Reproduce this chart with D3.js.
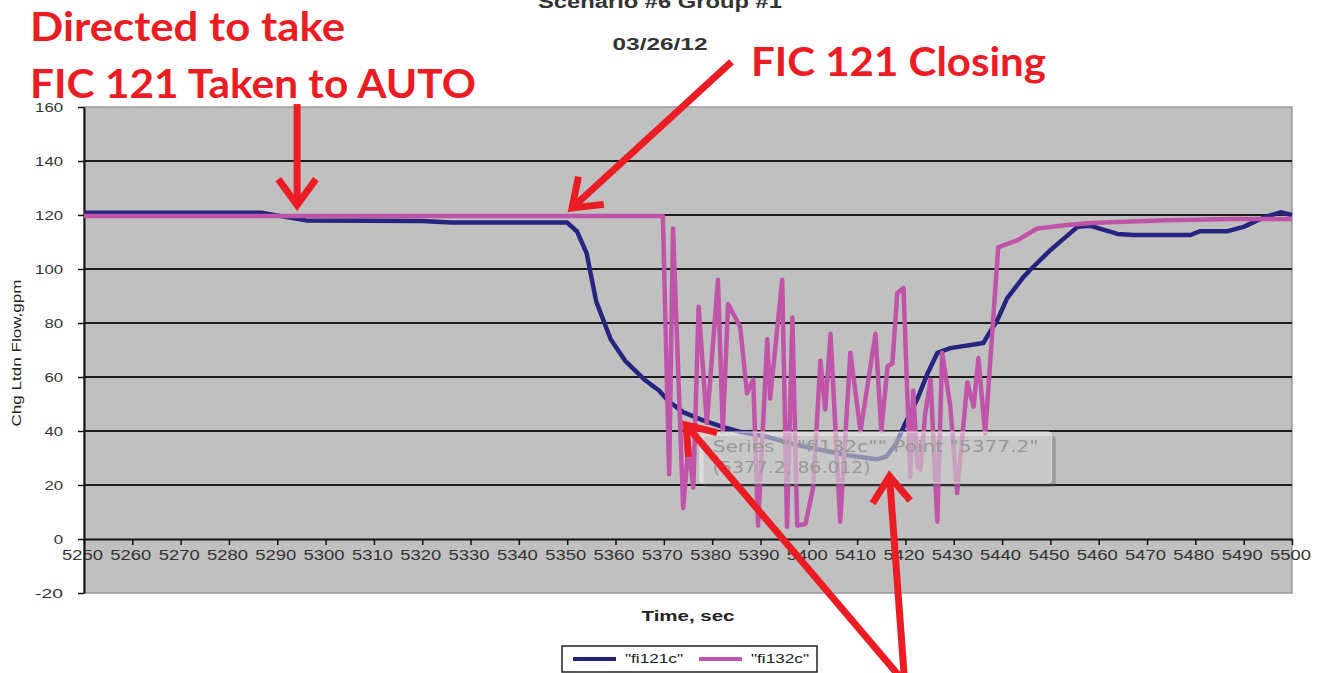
<!DOCTYPE html>
<html>
<head>
<meta charset="utf-8">
<script src="https://cdn.jsdelivr.net/npm/d3@7"></script>
<style>
  body { margin: 0; background: #fff; }
  svg { display: block; }
</style>
</head>
<body>
<div id="vis"></div>
<script>
// fi121c (navy) - time, sec / flow, gpm
const timeA = [5250, 5287, 5291, 5296, 5320, 5326, 5350, 5352, 5354, 5356, 5359, 5362, 5366, 5369, 5371, 5374,
  5378, 5382, 5386, 5391, 5397, 5408, 5414, 5416, 5418, 5420, 5422.5, 5424.5, 5426.6, 5429.3, 5436.1, 5439,
  5441, 5444.4, 5446, 5450, 5455.6, 5458.3, 5463.9, 5467.2, 5479, 5481, 5486.7, 5490, 5494, 5497.6, 5500];
const flowA = [120.8, 120.8, 119.5, 118, 117.8, 117.2, 117.2, 114, 106, 88, 74, 66, 59, 55, 51, 47,
  44, 41.6, 39.6, 38, 35, 31, 29.5, 30.5, 35, 43, 52, 61, 68.9, 70.7, 72.6, 81,
  89, 97, 100, 107, 115.6, 116, 113, 112.6, 112.6, 114, 114, 115.6, 119, 121, 120];

// fi132c (pink)
const timeB = [5250, 5369.8, 5371.1, 5371.9, 5374.0, 5375.1, 5376.1, 5377.2, 5378.9, 5381.2, 5382.2, 5383.3,
  5385.8, 5387.2, 5388.5, 5389.5, 5391.4, 5392.0, 5394.5, 5395.5, 5396.6, 5397.6, 5399.3, 5400.9, 5402.4,
  5403.4, 5404.5, 5406.5, 5408.6, 5410.7, 5413.8, 5415.0, 5416.3, 5417.3, 5418.3, 5419.6, 5421.0, 5421.6,
  5422.5, 5423.1, 5424.1, 5425.2, 5426.6, 5427.6, 5429.3, 5430.7, 5432.8, 5434.1, 5435.1, 5436.5, 5439.2,
  5443.2, 5447.3, 5453.5, 5458.3, 5474, 5487.6, 5500];
const flowB = [119.6, 119.6, 24, 115, 11.5, 35, 19, 86, 43, 96, 40, 87,
  78.6, 54, 59, 5, 74, 52, 96, 4.5, 82, 5, 5.5, 19, 66,
  48, 76, 6.4, 69, 40, 76, 40, 64, 65, 91, 93, 23, 55,
  27, 25.6, 46.6, 59, 6.4, 69, 49, 17, 58, 49, 67, 39, 108,
  110.7, 115, 116.3, 117, 118.1, 118.5, 118.5];

const xTicks = d3.range(5250, 5501, 10);
const yTicks = d3.range(-20, 161, 20);
const seriesNames = ['"fi121c"', '"fi132c"'];
const seriesColors = ["#25257f", "#c054a8"];

// red call-outs: [tail time, tail flow, tip time, tip flow]
const arrows = [
  [5294.1, 161.1, 5294.1, 123.7],
  [5384.0, 176.7, 5351.0, 122.6],
  [5419.4, -52.2, 5374.6, 42.2],
  [5419.8, -52.2, 5416.7, 23.3]
];

const W = 1327, H = 673;
const svg = d3.select("#vis").append("svg").attr("width", W).attr("height", H);

const x = d3.scaleLinear().domain([5250, 5500]).range([84, 1292]);
const y = d3.scaleLinear().domain([-20, 160]).range([593, 107]);

// plot area
svg.append("rect")
  .attr("x", x(5250)).attr("y", y(160))
  .attr("width", x(5500) - x(5250)).attr("height", y(-20) - y(160))
  .attr("fill", "#c0c0c0")
  .attr("stroke", "#9a9a9a")
  .attr("stroke-width", 1.5);

svg.append("g").selectAll("line")
  .data(yTicks.filter(d => d > 0 && d < 160))
  .join("line")
  .attr("x1", x(5250)).attr("x2", x(5500))
  .attr("y1", d => y(d)).attr("y2", d => y(d))
  .attr("stroke", "#1c1c1c")
  .attr("stroke-width", 1.8);

// axes
const xAxis = svg.append("g")
  .attr("transform", `translate(0, ${y(0)})`)
  .call(d3.axisBottom(x).tickValues(xTicks).tickSize(6).tickSizeOuter(0).tickFormat(d => String(d)));
xAxis.select(".domain").attr("stroke", "#111").attr("stroke-width", 2);
xAxis.selectAll(".tick line").attr("stroke", "#111").attr("stroke-width", 1.5);
xAxis.selectAll(".tick text")
  .attr("y", 10).attr("dy", "0.71em").attr("dx", -2)
  .attr("font-family", "Liberation Sans, Arial, sans-serif")
  .attr("font-size", 15)
  .attr("fill", "#333")
  .attr("textLength", 41)
  .attr("lengthAdjust", "spacingAndGlyphs");

const yAxis = svg.append("g")
  .attr("transform", `translate(${x(5250)}, 0)`)
  .call(d3.axisLeft(y).tickValues(yTicks).tickSize(6).tickSizeOuter(0).tickFormat(d => String(d)));
yAxis.select(".domain").attr("stroke", "#111").attr("stroke-width", 2);
yAxis.selectAll(".tick line").attr("stroke", "#111").attr("stroke-width", 1.5);
yAxis.selectAll(".tick text")
  .attr("x", -21)
  .attr("font-family", "Liberation Sans, Arial, sans-serif")
  .attr("font-size", 13)
  .attr("fill", "#333")
  .attr("textLength", d => String(d).length * 9.3)
  .attr("lengthAdjust", "spacingAndGlyphs");

// series
const line = d3.line().x(d => x(d[0])).y(d => y(d[1]));
svg.append("path")
  .datum(d3.zip(timeA, flowA))
  .attr("fill", "none")
  .attr("stroke", seriesColors[0])
  .attr("stroke-width", 4.5)
  .attr("stroke-linejoin", "round")
  .attr("d", line);
svg.append("path")
  .datum(d3.zip(timeB, flowB))
  .attr("fill", "none")
  .attr("stroke", seriesColors[1])
  .attr("stroke-width", 4.5)
  .attr("stroke-linejoin", "round")
  .attr("d", line);

// hover tooltip left over from Excel
const tip = svg.append("g").attr("transform", `translate(${x(5377.2) + 1}, 432)`);
tip.append("rect").attr("x", 4).attr("y", 4).attr("width", 352).attr("height", 51)
  .attr("rx", 3).attr("fill", "#555").attr("opacity", 0.35);
tip.append("rect").attr("width", 352).attr("height", 51)
  .attr("rx", 3).attr("fill", "#fff").attr("fill-opacity", 0.45)
  .attr("stroke", "#d8d8d8");
tip.append("text").attr("x", 13).attr("y", 20)
  .attr("font-family", "DejaVu Sans, sans-serif").attr("font-size", 16).attr("fill", "#999")
  .attr("textLength", 326).attr("lengthAdjust", "spacingAndGlyphs")
  .text('Series " "fi132c"" Point "5377.2"');
tip.append("text").attr("x", 13).attr("y", 41)
  .attr("font-family", "DejaVu Sans, sans-serif").attr("font-size", 16).attr("fill", "#999")
  .attr("textLength", 158).attr("lengthAdjust", "spacingAndGlyphs")
  .text("(5377.2, 86.012)");

// titles
svg.append("text").attr("x", 660).attr("y", 8).attr("text-anchor", "middle")
  .attr("font-family", "Liberation Sans, Arial, sans-serif").attr("font-weight", "bold")
  .attr("font-size", 18).attr("fill", "#333")
  .attr("textLength", 244).attr("lengthAdjust", "spacingAndGlyphs")
  .text("Scenario #6 Group #1");
svg.append("text").attr("x", 660).attr("y", 50).attr("text-anchor", "middle")
  .attr("font-family", "Liberation Sans, Arial, sans-serif").attr("font-weight", "bold")
  .attr("font-size", 17).attr("fill", "#333")
  .attr("textLength", 95).attr("lengthAdjust", "spacingAndGlyphs")
  .text("03/26/12");

svg.append("text").attr("x", 688).attr("y", 621).attr("text-anchor", "middle")
  .attr("font-family", "Liberation Sans, Arial, sans-serif").attr("font-weight", "bold")
  .attr("font-size", 14).attr("fill", "#222")
  .attr("textLength", 93).attr("lengthAdjust", "spacingAndGlyphs")
  .text("Time, sec");

svg.append("text")
  .attr("transform", "translate(21, 353) rotate(-90)")
  .attr("text-anchor", "middle")
  .attr("font-family", "Liberation Sans, Arial, sans-serif")
  .attr("font-size", 13).attr("fill", "#222")
  .attr("textLength", 147).attr("lengthAdjust", "spacingAndGlyphs")
  .text("Chg Ltdn Flow,gpm");

// legend
const legend = svg.append("g").attr("transform", "translate(562, 646)");
legend.append("rect").attr("width", 255).attr("height", 26)
  .attr("fill", "#fff").attr("stroke", "#222").attr("stroke-width", 1.5);
seriesNames.forEach((name, i) => {
  const lx = 11 + i * 126;
  legend.append("line").attr("x1", lx).attr("x2", lx + 43).attr("y1", 13).attr("y2", 13)
    .attr("stroke", seriesColors[i]).attr("stroke-width", 4);
  legend.append("text").attr("x", lx + 52).attr("y", 17)
    .attr("font-family", "Liberation Sans, Arial, sans-serif")
    .attr("font-size", 12).attr("fill", "#222")
    .attr("textLength", 58).attr("lengthAdjust", "spacingAndGlyphs")
    .text(name);
});

// red annotations
const red = "#ec1c24";
const notes = [
  { text: "Directed to take", x: 30, y: 41, w: 315 },
  { text: "FIC 121 Taken to AUTO", x: 30, y: 98, w: 446 },
  { text: "FIC 121 Closing", x: 751, y: 76, w: 295 }
];
svg.append("g").selectAll("text")
  .data(notes)
  .join("text")
  .attr("x", d => d.x).attr("y", d => d.y)
  .attr("font-family", "Lato, Open Sans, sans-serif").attr("font-weight", 700)
  .attr("font-size", 40).attr("fill", red)
  .attr("textLength", d => d.w).attr("lengthAdjust", "spacingAndGlyphs")
  .text(d => d.text);

const arrowG = svg.append("g")
  .attr("stroke", red).attr("stroke-width", 7)
  .attr("stroke-linecap", "butt").attr("fill", "none");
arrows.forEach(a => {
  const x1 = x(a[0]), y1 = y(a[1]), x2 = x(a[2]), y2 = y(a[3]);
  const ang = Math.atan2(y2 - y1, x2 - x1);
  const len = 32, spread = Math.PI / 5;
  arrowG.append("line").attr("x1", x1).attr("y1", y1).attr("x2", x2).attr("y2", y2);
  arrowG.append("path")
    .attr("stroke-linejoin", "miter")
    .attr("d", `M${x2 - len * Math.cos(ang - spread)},${y2 - len * Math.sin(ang - spread)}` +
      `L${x2},${y2}` +
      `L${x2 - len * Math.cos(ang + spread)},${y2 - len * Math.sin(ang + spread)}`);
});
</script>
</body>
</html>
